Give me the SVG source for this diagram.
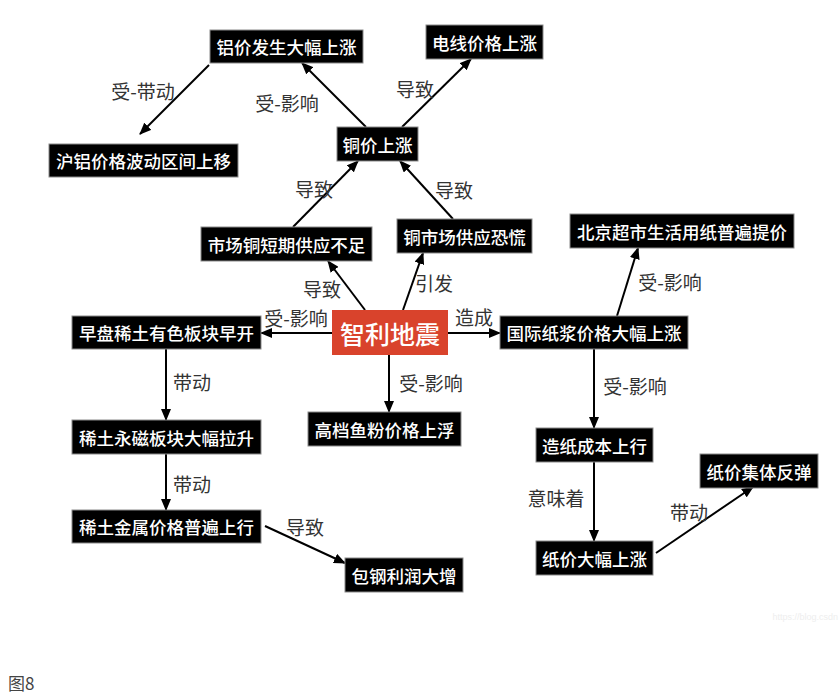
<svg xmlns="http://www.w3.org/2000/svg" width="840" height="700" viewBox="0 0 840 700">
<defs>
<marker id="ah" markerWidth="12" markerHeight="10" refX="11" refY="5" orient="auto" markerUnits="userSpaceOnUse">
<path d="M0,0 L12,5 L0,10 Z" fill="#000"/>
</marker>
<style>
.box{fill:#000;stroke:#8a8a8a;stroke-width:1}
.nt{fill:#fff;font-family:"Noto Sans CJK SC","Noto Sans",sans-serif;font-size:17.5px;font-weight:500;text-anchor:middle;dominant-baseline:central}
.lb{fill:#333;font-family:"Noto Sans CJK SC","Noto Sans",sans-serif;font-size:19px;text-anchor:middle;dominant-baseline:central}
.cn line{stroke:#000;stroke-width:2;marker-end:url(#ah)}
</style>
</defs>
<rect width="840" height="700" fill="#fff"/>
<g class="cn" id="connectors">
<line x1="366" y1="127" x2="302" y2="63"/>
<line x1="209" y1="65" x2="140" y2="134"/>
<line x1="402" y1="127" x2="471" y2="59"/>
<line x1="293" y1="227" x2="358" y2="161"/>
<line x1="453" y1="219" x2="400" y2="161"/>
<line x1="365" y1="310" x2="328" y2="261"/>
<line x1="403" y1="310" x2="423" y2="253"/>
<line x1="332" y1="333" x2="261" y2="333"/>
<line x1="448" y1="333" x2="500" y2="333"/>
<line x1="617" y1="316" x2="638" y2="248"/>
<line x1="389" y1="355" x2="389" y2="412"/>
<line x1="166" y1="349" x2="166" y2="420"/>
<line x1="166" y1="454" x2="166" y2="510"/>
<line x1="265" y1="526" x2="345" y2="563"/>
<line x1="594" y1="349" x2="594" y2="428"/>
<line x1="594" y1="462" x2="594" y2="541"/>
<line x1="656" y1="553" x2="753" y2="487"/>
</g>
<g id="edge-labels">
<text class="lb" x="143" y="90">受-带动</text>
<text class="lb" x="287" y="102">受-影响</text>
<text class="lb" x="415" y="88">导致</text>
<text class="lb" x="314" y="188">导致</text>
<text class="lb" x="454" y="189">导致</text>
<text class="lb" x="322" y="288">导致</text>
<text class="lb" x="434" y="282">引发</text>
<text class="lb" x="296" y="317">受-影响</text>
<text class="lb" x="474" y="316">造成</text>
<text class="lb" x="670" y="281">受-影响</text>
<text class="lb" x="431" y="382">受-影响</text>
<text class="lb" x="192" y="381">带动</text>
<text class="lb" x="192" y="483">带动</text>
<text class="lb" x="305" y="526">导致</text>
<text class="lb" x="635" y="385">受-影响</text>
<text class="lb" x="556" y="497">意味着</text>
<text class="lb" x="689" y="511">带动</text>
</g>
<g id="n-al"><rect class="box" x="210" y="30" width="153" height="33"/><text class="nt" x="286.5" y="46.5">铝价发生大幅上涨</text></g>
<g id="n-hual"><rect class="box" x="49" y="144" width="189" height="33"/><text class="nt" x="143.5" y="160.5">沪铝价格波动区间上移</text></g>
<g id="n-cu"><rect class="box" x="337" y="127" width="81" height="34"/><text class="nt" x="377.5" y="144">铜价上涨</text></g>
<g id="n-wire"><rect class="box" x="426" y="25" width="117" height="34"/><text class="nt" x="484.5" y="42">电线价格上涨</text></g>
<g id="n-short"><rect class="box" x="201" y="227" width="171" height="34"/><text class="nt" x="286.5" y="244">市场铜短期供应不足</text></g>
<g id="n-panic"><rect class="box" x="397" y="219" width="135" height="34"/><text class="nt" x="464.5" y="236">铜市场供应恐慌</text></g>
<g id="n-bj"><rect class="box" x="570" y="214" width="224" height="34"/><text class="nt" x="682" y="231">北京超市生活用纸普遍提价</text></g>
<g id="n-pulp"><rect class="box" x="500" y="316" width="188" height="33"/><text class="nt" x="594" y="332.5">国际纸浆价格大幅上涨</text></g>
<g id="n-quake"><rect x="332" y="310" width="116" height="45" fill="#d9432c"/><text x="390" y="333" fill="#fff" font-family="Noto Sans CJK SC, Noto Sans, sans-serif" font-size="25" font-weight="500" text-anchor="middle" dominant-baseline="central">智利地震</text></g>
<g id="n-early"><rect class="box" x="72" y="316" width="189" height="33"/><text class="nt" x="166.5" y="332.5">早盘稀土有色板块早开</text></g>
<g id="n-fish"><rect class="box" x="308" y="412" width="153" height="34"/><text class="nt" x="384.5" y="429">高档鱼粉价格上浮</text></g>
<g id="n-magnet"><rect class="box" x="72" y="420" width="189" height="34"/><text class="nt" x="166.5" y="437">稀土永磁板块大幅拉升</text></g>
<g id="n-metal"><rect class="box" x="72" y="510" width="189" height="33"/><text class="nt" x="166.5" y="526.5">稀土金属价格普遍上行</text></g>
<g id="n-baogang"><rect class="box" x="345" y="558" width="118" height="34"/><text class="nt" x="404" y="575">包钢利润大增</text></g>
<g id="n-cost"><rect class="box" x="536" y="428" width="117" height="34"/><text class="nt" x="594.5" y="445">造纸成本上行</text></g>
<g id="n-paper"><rect class="box" x="536" y="541" width="117" height="34"/><text class="nt" x="594.5" y="558">纸价大幅上涨</text></g>
<g id="n-rebound"><rect class="box" x="700" y="454" width="118" height="34"/><text class="nt" x="759" y="471">纸价集体反弹</text></g>
<text x="8" y="690" fill="#444" font-family="Noto Sans CJK SC, Noto Sans, sans-serif" font-size="17">图8</text>
<text x="838" y="620" fill="#eeeeee" font-family="Liberation Sans, sans-serif" font-size="9" text-anchor="end">https://blog.csdn</text>
</svg>
